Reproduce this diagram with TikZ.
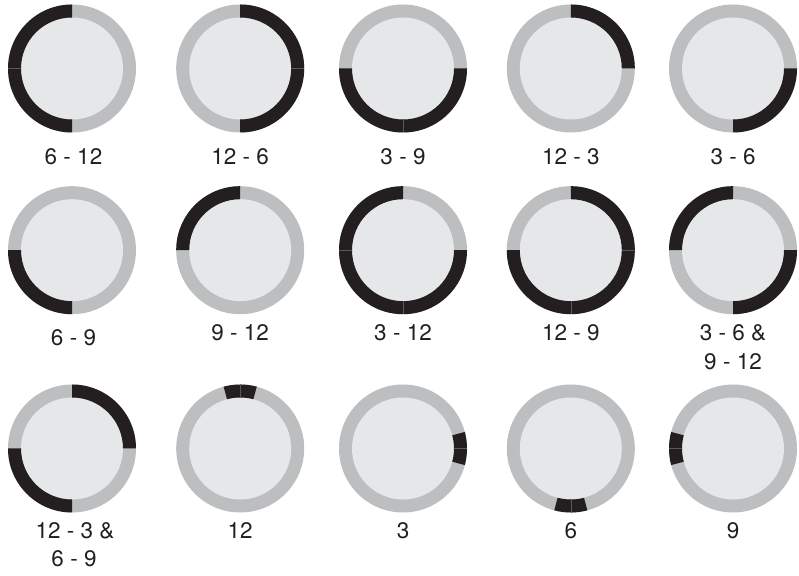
\documentclass[tikz,border=0pt]{standalone}
\usepackage{fontspec}
\setmainfont{TeX Gyre Heros}
\definecolor{ringgray}{HTML}{BCBEC0}
\definecolor{facegray}{HTML}{E6E7E8}
\definecolor{segblack}{HTML}{231F20}
\definecolor{sepgray}{HTML}{58595B}
\definecolor{txtcol}{HTML}{231F20}
\newcommand{\blkseg}[2]{\fill[segblack] (#1:64) arc[start angle=#1,end angle=#2,radius=64] -- (#2:51) arc[start angle=#2,end angle=#1,radius=51] -- cycle;}
\newcommand{\sepln}[1]{\draw[sepline] (#1:51) -- (#1:64);}
\tikzset{
  ringbase/.style={circle,fill=ringgray,draw=none,minimum size=128pt,inner sep=0pt},
  sepline/.style={draw=sepgray,line width=0.45pt},
  lbl/.style={font=\fontsize{22.5}{27}\selectfont,text=txtcol,anchor=base,inner sep=0pt}
}
\begin{document}
\begin{tikzpicture}[x=1pt,y=1pt]
\useasboundingbox (0,0) rectangle (799,575);
% ---- circles
\node[ringbase] (c1)  at (72,506.5) {};
\node[ringbase] (c2)  at (240.2,506.5) {};
\node[ringbase] (c3)  at (403,506.5) {};
\node[ringbase] (c4)  at (570.8,506.5) {};
\node[ringbase] (c5)  at (733,506.5) {};
\node[ringbase] (c6)  at (72,324.8) {};
\node[ringbase] (c7)  at (240.2,324.8) {};
\node[ringbase] (c8)  at (403,324.8) {};
\node[ringbase] (c9)  at (570.8,324.8) {};
\node[ringbase] (c10) at (733,324.8) {};
\node[ringbase] (c11) at (72,126.5) {};
\node[ringbase] (c12) at (240.2,126.5) {};
\node[ringbase] (c13) at (403,126.5) {};
\node[ringbase] (c14) at (570.8,126.5) {};
\node[ringbase] (c15) at (733,126.5) {};
\foreach \c in {c1,c2,c3,c4,c5,c6,c7,c8,c9,c10,c11,c12,c13,c14,c15}{
  \fill[facegray] (\c.center) circle (51);
}
% ---- segments
\begin{scope}[shift={(c1.center)}]\blkseg{90}{270}\sepln{180}\end{scope}
\begin{scope}[shift={(c2.center)}]\blkseg{-90}{90}\sepln{0}\end{scope}
\begin{scope}[shift={(c3.center)}]\blkseg{180}{360}\sepln{270}\end{scope}
\begin{scope}[shift={(c4.center)}]\blkseg{0}{90}\end{scope}
\begin{scope}[shift={(c5.center)}]\blkseg{-90}{0}\end{scope}
\begin{scope}[shift={(c6.center)}]\blkseg{180}{270}\end{scope}
\begin{scope}[shift={(c7.center)}]\blkseg{90}{180}\end{scope}
\begin{scope}[shift={(c8.center)}]\blkseg{90}{360}\sepln{180}\sepln{270}\end{scope}
\begin{scope}[shift={(c9.center)}]\blkseg{-180}{90}\sepln{0}\sepln{-90}\end{scope}
\begin{scope}[shift={(c10.center)}]\blkseg{-90}{0}\blkseg{90}{180}\end{scope}
\begin{scope}[shift={(c11.center)}]\blkseg{0}{90}\blkseg{180}{270}\end{scope}
\begin{scope}[shift={(c12.center)}]\blkseg{75}{105}\sepln{90}\end{scope}
\begin{scope}[shift={(c13.center)}]\blkseg{-15}{15}\sepln{0}\end{scope}
\begin{scope}[shift={(c14.center)}]\blkseg{255}{285}\sepln{270}\end{scope}
\begin{scope}[shift={(c15.center)}]\blkseg{165}{195}\sepln{180}\end{scope}
% ---- labels
\node[lbl] (l1)  at (73.5,410.7) {6 - 12};
\node[lbl] (l2)  at (240.2,410.7) {12 - 6};
\node[lbl] (l3)  at (403,410.7) {3 - 9};
\node[lbl] (l4)  at (570.8,410.7) {12 - 3};
\node[lbl] (l5)  at (733,410.7) {3 - 6};
\node[lbl] (l6)  at (73.5,229.3) {6 - 9};
\node[lbl] (l7)  at (240.2,234.5) {9 - 12};
\node[lbl] (l8)  at (403,234.5) {3 - 12};
\node[lbl] (l9)  at (570.8,234.5) {12 - 9};
\node[lbl] (l10a) at (733,234.5) {3 - 6 \&};
\node[lbl] (l10b) at (733,205) {9 - 12};
\node[lbl] (l11a) at (75,36.5) {12 - 3 \&};
\node[lbl] (l11b) at (74,8.3) {6 - 9};
\node[lbl] (l12) at (240.2,36.5) {12};
\node[lbl] (l13) at (403,36.5) {3};
\node[lbl] (l14) at (570.8,36.5) {6};
\node[lbl] (l15) at (733,36.5) {9};
\end{tikzpicture}
\end{document}
